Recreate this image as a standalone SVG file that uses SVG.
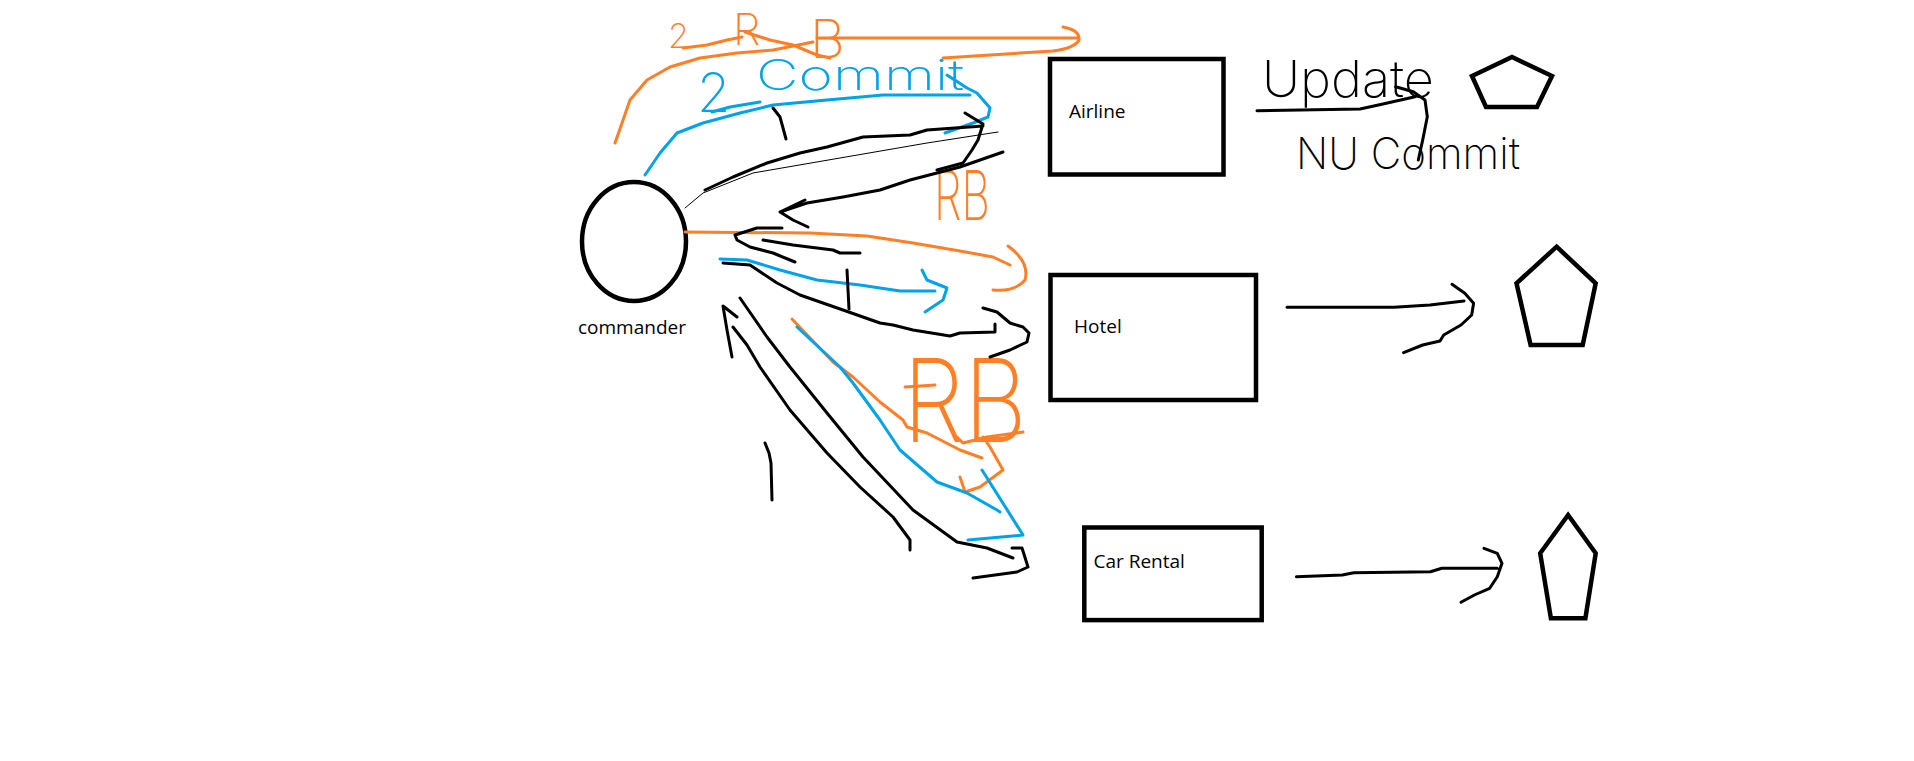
<svg xmlns="http://www.w3.org/2000/svg" width="1914" height="761" viewBox="0 0 1914 761">
<style>
.node{fill:none;stroke:#000;stroke-width:4.5}
.lbl{font-family:"Open Sans","Liberation Sans",sans-serif;font-size:19px;fill:#000}
.k{fill:none;stroke:#000;stroke-width:3;stroke-linecap:round;stroke-linejoin:round}
.thin{fill:none;stroke:#000;stroke-width:1;stroke-linecap:round}
.o{fill:none;stroke:#FF7F27;stroke-width:3;stroke-linecap:round;stroke-linejoin:round}
.b{fill:none;stroke:#00A2E8;stroke-width:3;stroke-linecap:round;stroke-linejoin:round}
.hw{font-family:Inter,Lato,"DejaVu Sans",sans-serif;font-weight:200}
</style>
<rect width="1914" height="761" fill="#fff"/>
<g id="commander">
<ellipse cx="634" cy="241.5" rx="52" ry="59.5" class="node"/>
<text x="578" y="334" class="lbl">commander</text>
</g>
<g id="airline">
<rect x="1050" y="59" width="173.5" height="115.5" class="node"/>
<text x="1069" y="118" class="lbl">Airline</text>
</g>
<g id="hotel">
<rect x="1050.5" y="275" width="205.5" height="125" class="node"/>
<text x="1074" y="333" class="lbl">Hotel</text>
</g>
<g id="car-rental">
<rect x="1084.3" y="527.5" width="177.4" height="92.6" class="node"/>
<text x="1093.5" y="568" class="lbl">Car Rental</text>
</g>
<g id="airline-db"><polygon points="1512,57 1552,76 1537,107 1486,107 1472,76" class="node"/></g>
<g id="hotel-db"><polygon points="1556.6,246.7 1595.7,283.3 1582.7,345 1530.6,345 1516.5,283.3" class="node"/></g>
<g id="car-db"><polygon points="1568.1,515 1595.7,553.3 1585.4,618.3 1550.9,618.3 1540.2,553.3" class="node"/></g>
<g id="labels">
<text class="hw" fill="#FF7F27"><tspan x="668" y="48" font-size="34">2</tspan><tspan x="733" y="45" font-size="44">R</tspan><tspan x="810" y="58" font-size="54">B</tspan></text>
<text class="hw" fill="#00A2E8"><tspan x="697" y="112" font-size="54">2</tspan></text>
<text class="hw" fill="#00A2E8" x="756" y="90" font-size="42" textLength="208" lengthAdjust="spacingAndGlyphs">Commit</text>
<text class="hw" fill="#FF7F27" x="934" y="220" font-size="68" textLength="56" lengthAdjust="spacingAndGlyphs" font-weight="200">RB</text>
<text class="hw" fill="#FF7F27" x="903" y="442" font-size="116" textLength="124" lengthAdjust="spacingAndGlyphs" font-weight="100">RB</text>
<text class="hw" fill="#000" x="1262" y="97" font-size="50" textLength="172" lengthAdjust="spacingAndGlyphs" font-weight="300">Update</text>
<text class="hw" fill="#000" x="1296" y="169" font-size="44" textLength="224" lengthAdjust="spacingAndGlyphs" font-weight="300">NU Commit</text>
</g>
<g id="connectors">
<path class="o" d="M615,143 L622,123 L630,100 L647,80 L670,67 L700,58 L737,53 L773,50 L813,42"/>
<path class="o" d="M683,48 L707,45 L727,40 L742,37"/>
<path class="o" d="M745,32 L770,40 L793,45 L817,55 L830,58"/>
<path class="o" d="M817,38 L1078,38 M1063,27 Q1080,30 1079,40 Q1075,48 1053,51 L943,58"/>
<path class="o" d="M685,232 L810,233 L867,236 L913,243 L960,251 L993,257 L1010,265"/>
<path class="o" d="M1008,246 Q1030,262 1025,280 Q1015,292 993,290"/>
<path class="o" d="M792,319 L833,362 L853,377 L880,402 L903,420 L907,427 L927,433 L960,450 L982,458"/>
<path class="o" d="M905,387 L935,385 M957,437 L963,443 L987,437 L1023,432 M983,437 L990,447 L1003,470 L980,487 L965,492 L960,477"/>
<path class="b" d="M645,175 L660,153 L677,133 L703,123 L740,113 L773,105 L827,100 L883,95 L970,95"/>
<path class="b" d="M947,75 L967,88 L977,93 L990,108 L988,117 L973,123 L945,133"/>
<path class="b" d="M712,112 L730,107 L760,102"/>
<path class="b" d="M720,259 L747,260 L780,270 L817,280 L860,285 L900,291 L935,291"/>
<path class="b" d="M922,270 L927,280 L947,288 L943,300 L925,312"/>
<path class="b" d="M797,327 L840,367 L853,383 L880,420 L900,450 L937,482 L967,493 L997,510 L1000,512"/>
<path class="b" d="M982,470 L1023,535 L968,540"/>
<path class="k" d="M773,108 L780,117 L786,139"/>
<path class="thin" d="M685,208 L703,193 L753,173 L927,143 L998,132"/>
<path class="k" d="M705,190 L733,177 L767,163 L800,153 L827,147 L863,137 L910,135 L927,130 L983,126 M965,113 L983,124 L978,140 L972,150 L963,163 L937,170"/>
<path class="k" d="M1003,152 L960,167 L910,180 L880,190 L843,197 L807,203 L780,212 M805,200 L780,212 L793,220 L808,227"/>
<path class="k" d="M782,228 L757,228 L735,235 L737,240 L750,247 L773,253 L795,262"/>
<path class="k" d="M763,240 L793,245 L833,250 L840,253 L860,253"/>
<path class="k" d="M723,263 L750,265 L777,283 L800,295 L843,310 L880,323 L893,325 L913,330 L950,336 L960,333 L995,332 L995,324"/>
<path class="k" d="M983,308 L997,312 L1010,323 L1023,327 L1029,333 L1027,342 L1010,350 L990,357"/>
<path class="k" d="M847,270 L849,309"/>
<path class="k" d="M737,317 L723,306 L727,330 L732,357 M733,327 L747,345 L760,367 L790,410 L827,453 L860,487 L893,517 L910,540 L910,550"/>
<path class="k" d="M740,298 L767,337 L790,367 L827,413 L863,457 L913,510 L957,542 L987,548 L1013,558 M1012,548 L1022,548 L1028,567 L1017,572 L973,578"/>
<path class="k" d="M765,443 L769,453 L771,463 L772,500"/>
<path class="k" d="M1257,110.7 L1360,109 L1383,104 L1415,96.7 M1395.7,86.7 L1413.3,91.7 L1425,100 L1427.3,116.7 L1422.7,140 L1418.3,160"/>
<path class="k" d="M1287,307.3 L1394,307.3 L1430,305 L1464,301 M1452,284.3 L1464.8,293.3 L1473.6,303.3 L1471.7,315 L1461,325 L1443.7,335 L1440,341 L1422.7,345 L1403.6,352.7"/>
<path class="k" d="M1296.4,576.7 L1342.3,575 L1353.8,572.7 L1430.4,571.7 L1441.8,568.3 L1497.3,568.3 M1484,548.3 L1497.3,553.3 L1502,563.3 L1497.3,576.7 L1489.7,588.3 L1474.4,595 L1461,602.3"/>
</g>
</svg>
